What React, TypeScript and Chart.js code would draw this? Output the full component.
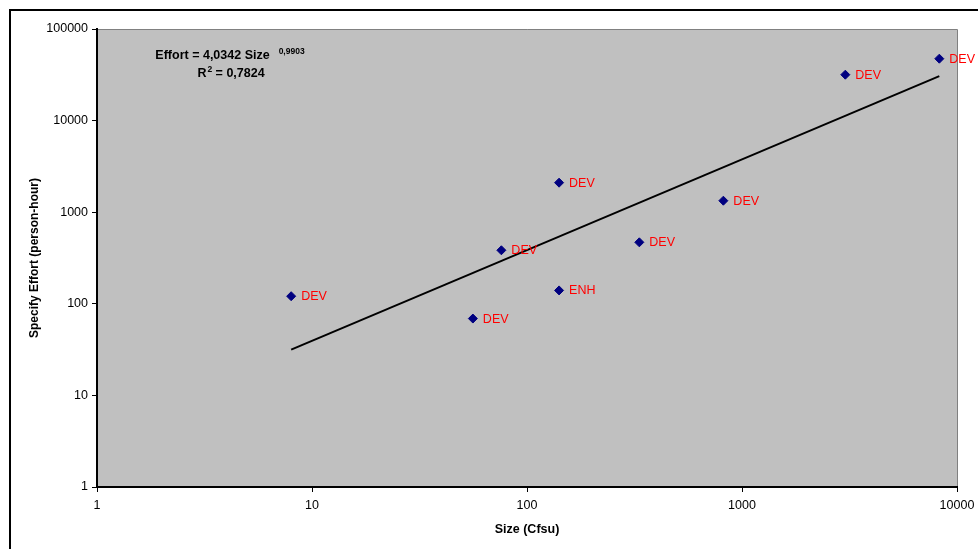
import React, { useEffect, useRef } from 'react';
import { Chart, registerables } from 'chart.js';

Chart.register(...registerables);

const sizes = [8, 56, 76, 141, 141, 333, 819, 3024, 8275];
const efforts = [121, 69, 384, 2100, 140, 469, 1335, 31700, 47400];
const pointLabels = ['DEV', 'DEV', 'DEV', 'DEV', 'ENH', 'DEV', 'DEV', 'DEV', 'DEV'];
const trendSizes = [8, 8275];
const trendEfforts = [31.6, 30590];
const xTicks = [1, 10, 100, 1000, 10000];
const yTicks = [1, 10, 100, 1000, 10000, 100000];
const xTitle = 'Size (Cfsu)';
const yTitle = 'Specify Effort (person-hour)';
const equationMain = 'Effort = 4,0342 Size';
const equationExp = '0,9903';
const r2Base = 'R';
const r2Exp = '2';
const r2Rest = ' = 0,7824';

const FONT = "'Liberation Sans', Arial, sans-serif";

const framePlugin = {
  id: 'frame',
  beforeDraw(chart: any) {
    const { ctx, chartArea: a } = chart;
    ctx.save();
    ctx.fillStyle = '#ffffff';
    ctx.fillRect(0, 0, chart.width, chart.height);
    ctx.fillStyle = '#000000';
    ctx.fillRect(9, 9, chart.width - 9, 2);
    ctx.fillRect(9, 9, 2, chart.height - 9);
    ctx.fillStyle = '#C0C0C0';
    ctx.fillRect(a.left, a.top, a.right - a.left, a.bottom - a.top);
    ctx.strokeStyle = '#808080';
    ctx.lineWidth = 1;
    ctx.beginPath();
    ctx.moveTo(a.left, a.top + 0.5);
    ctx.lineTo(a.right + 0.5, a.top + 0.5);
    ctx.lineTo(a.right + 0.5, a.bottom);
    ctx.stroke();
    ctx.restore();
  },
};

const labelPlugin = {
  id: 'pointLabels',
  afterDatasetsDraw(chart: any) {
    const meta = chart.getDatasetMeta(0);
    const ctx = chart.ctx;
    ctx.save();
    ctx.font = `12.5px ${FONT}`;
    ctx.fillStyle = '#FF0000';
    ctx.textAlign = 'left';
    ctx.textBaseline = 'middle';
    meta.data.forEach((el: any, i: number) => {
      ctx.fillText(pointLabels[i], el.x + 10, el.y + 0.5);
    });
    ctx.restore();
  },
};

type Part = { text: string; font: string; rise?: number; gap?: number };

const equationPlugin = {
  id: 'equation',
  afterDraw(chart: any) {
    const { ctx, chartArea: a } = chart;
    ctx.save();
    ctx.fillStyle = '#000000';
    ctx.textAlign = 'left';
    ctx.textBaseline = 'alphabetic';
    const big = `bold 12.5px ${FONT}`;
    const small = `bold 8.5px ${FONT}`;
    const drawLine = (parts: Part[], cx: number, baseline: number) => {
      let total = 0;
      const widths = parts.map((p) => {
        ctx.font = p.font;
        const w = ctx.measureText(p.text).width + (p.gap || 0);
        total += w;
        return w;
      });
      let x = cx - total / 2;
      parts.forEach((p, i) => {
        ctx.font = p.font;
        ctx.fillText(p.text, x + (p.gap || 0), baseline - (p.rise || 0));
        x += widths[i];
      });
    };
    drawLine(
      [
        { text: equationMain, font: big },
        { text: equationExp, font: small, rise: 5, gap: 9 },
      ],
      a.left + 133,
      a.top + 30
    );
    drawLine(
      [
        { text: r2Base, font: big },
        { text: r2Exp, font: small, rise: 5, gap: 1 },
        { text: r2Rest, font: big },
      ],
      a.left + 134,
      a.top + 48
    );
    ctx.restore();
  },
};

export default function App() {
  const ref = useRef<HTMLCanvasElement | null>(null);

  useEffect(() => {
    if (!ref.current) return;
    const chart = new Chart(ref.current, {
      type: 'scatter',
      data: {
        datasets: [
          {
            label: 'Effort',
            data: sizes.map((x, i) => ({ x, y: efforts[i] })),
            pointStyle: 'rectRot',
            pointRadius: 4.5,
            pointBackgroundColor: '#000080',
            pointBorderColor: '#000080',
            pointBorderWidth: 1,
            showLine: false,
            order: 0,
          },
          {
            label: 'Trend',
            data: trendSizes.map((x, i) => ({ x, y: trendEfforts[i] })),
            showLine: true,
            borderColor: '#000000',
            borderWidth: 2,
            pointRadius: 0,
            fill: false,
            order: 1,
          },
        ],
      },
      options: {
        animation: false,
        responsive: false,
        maintainAspectRatio: false,
        layout: { padding: { top: 29, right: 21, left: 0, bottom: 0 } },
        plugins: {
          legend: { display: false },
          tooltip: { enabled: false },
        },
        scales: {
          x: {
            type: 'logarithmic',
            min: 1,
            max: 10000,
            afterBuildTicks: (scale: any) => {
              scale.ticks = xTicks.map((v) => ({ value: v, major: true }));
            },
            afterFit: (scale: any) => {
              scale.height = 62;
              scale.paddingLeft = 0;
              scale.paddingRight = 0;
            },
            ticks: {
              callback: (v: any) => String(v),
              color: '#000000',
              font: { family: FONT, size: 12.5 },
              padding: 6,
              maxRotation: 0,
              autoSkip: false,
            },
            grid: {
              drawOnChartArea: false,
              drawTicks: true,
              tickLength: 5,
              color: '#000000',
              lineWidth: 1,
            },
            border: { display: true, color: '#000000', width: 2 },
            title: {
              display: true,
              text: xTitle,
              color: '#000000',
              font: { family: FONT, size: 12.5, weight: 'bold' },
              padding: { top: 0, bottom: 12 },
            },
          },
          y: {
            type: 'logarithmic',
            min: 1,
            max: 100000,
            afterBuildTicks: (scale: any) => {
              scale.ticks = yTicks.map((v) => ({ value: v, major: true }));
            },
            afterFit: (scale: any) => {
              scale.width = 97;
              scale.paddingTop = 0;
              scale.paddingBottom = 0;
            },
            ticks: {
              callback: (v: any) => String(v),
              color: '#000000',
              font: { family: FONT, size: 12.5 },
              padding: 4,
              autoSkip: false,
            },
            grid: {
              drawOnChartArea: false,
              drawTicks: true,
              tickLength: 5,
              color: '#000000',
              lineWidth: 1,
            },
            border: { display: true, color: '#000000', width: 2 },
            title: {
              display: true,
              text: yTitle,
              color: '#000000',
              font: { family: FONT, size: 12, weight: 'bold' },
              padding: { top: 27, bottom: 0 },
            },
          },
        },
      },
      plugins: [framePlugin, labelPlugin, equationPlugin],
    } as any);
    return () => chart.destroy();
  }, []);

  return (
    <div style={{ position: 'fixed', left: 0, top: 0, width: 978, height: 549, overflow: 'hidden', background: '#fff' }}>
      <canvas ref={ref} width={978} height={549} style={{ display: 'block', width: 978, height: 549 }} />
    </div>
  );
}
